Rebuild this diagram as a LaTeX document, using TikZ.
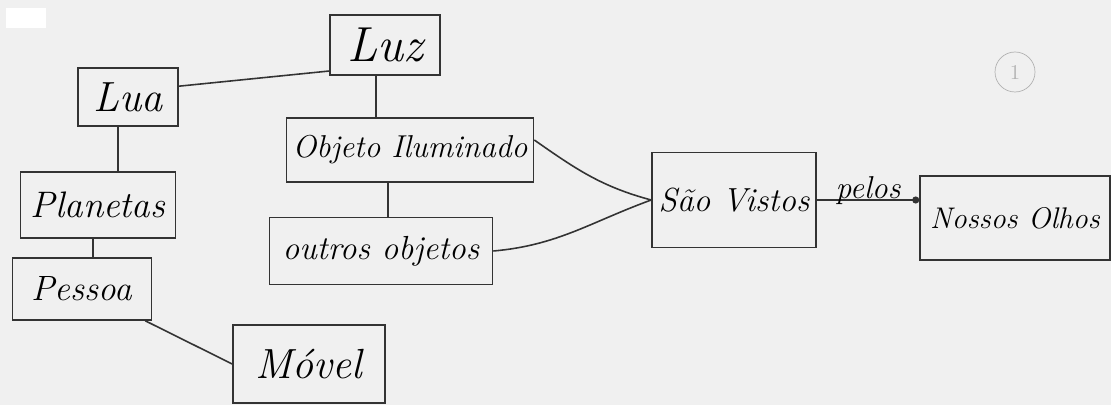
\documentclass[tikz,border=0pt]{standalone}
\usepackage{tikz}
\usetikzlibrary{arrows.meta}

\begin{document}
\begin{tikzpicture}[x=0.02cm,y=-0.02cm]
  \tikzset{
    box/.style={draw=black!80,line width=0.9pt,inner sep=2pt,
      font=\fontsize{17}{20}\selectfont\itshape},
    link/.style={draw=black!80,line width=0.9pt},
    tag/.style={inner sep=1pt,font=\fontsize{18}{20}\selectfont\itshape}
  }
  \useasboundingbox (0,0) rectangle (1111,405);
  \fill[gray!12] (0,0) rectangle (1111,405);
  \fill[white] (6,8) rectangle (46,28);

  % concepts
  \node[box,minimum width=110*0.02cm,minimum height=60*0.02cm,
    font=\fontsize{28}{30}\selectfont\itshape] (luz) at (385,45) {Luz};
  \node[box,minimum width=100*0.02cm,minimum height=58*0.02cm,
    font=\fontsize{24}{26}\selectfont\itshape] (lua) at (128,97) {Lua};
  \node[box,minimum width=247*0.02cm,minimum height=64*0.02cm,
    font=\fontsize{18}{21}\selectfont\itshape] (objeto)
    at (410,150) {Objeto Iluminado};
  \node[box,minimum width=155*0.02cm,minimum height=66*0.02cm,
    font=\fontsize{21}{24}\selectfont\itshape] (planetas) at (98,205) {Planetas};
  \node[box,minimum width=223*0.02cm,minimum height=67*0.02cm,
    font=\fontsize{19}{22}\selectfont\itshape] (outros) at (381,251) {outros objetos};
  \node[box,minimum width=164*0.02cm,minimum height=95*0.02cm,
    font=\fontsize{19}{22}\selectfont\itshape] (vistos) at (734,200) {São Vistos};
  \node[box,minimum width=190*0.02cm,minimum height=84*0.02cm,
    font=\fontsize{17}{20}\selectfont\itshape] (olhos) at (1015,218) {Nossos Olhos};
  \node[box,minimum width=139*0.02cm,minimum height=62*0.02cm,
    font=\fontsize{20}{23}\selectfont\itshape] (pessoa) at (82,289) {Pessoa};
  \node[box,minimum width=152*0.02cm,minimum height=78*0.02cm,
    font=\fontsize{24}{26}\selectfont\itshape] (movel) at (309,364) {Móvel};

  % page mark
  \node[circle,draw=gray!60,minimum size=40*0.02cm,inner sep=0pt,
    text=gray!60,font=\large] (marca) at (1015,72) {1};

  % links
  \draw[link] (lua.12) -- (luz.205);
  \draw[link] (luz.south west) ++(47,0) coordinate (luzb) -- (luzb |- objeto.north);
  \draw[link] (lua.south) ++(-10,0) coordinate (luab) -- (luab |- planetas.north);
  \draw[link] (objeto.south) ++(-22,0) coordinate (objb) -- (objb |- outros.north);
  \draw[link] (planetas.south) ++(-5,0) coordinate (plab) -- (plab |- pessoa.north);
  \draw[link] (pessoa.south east) ++(-7,0) -- (movel.west);
  \draw[link] (objeto.east) ++(0,-10) to[out=-35,in=165] (vistos.west);
  \draw[link] (outros.east) to[out=5,in=-160] (vistos.west);
  \draw[link,-{Circle[length=4pt]}] (vistos.east) -- (vistos.east -| olhos.west)
    node[tag,midway,above=-4pt] (pelos) {pelos};
\end{tikzpicture}
\end{document}
